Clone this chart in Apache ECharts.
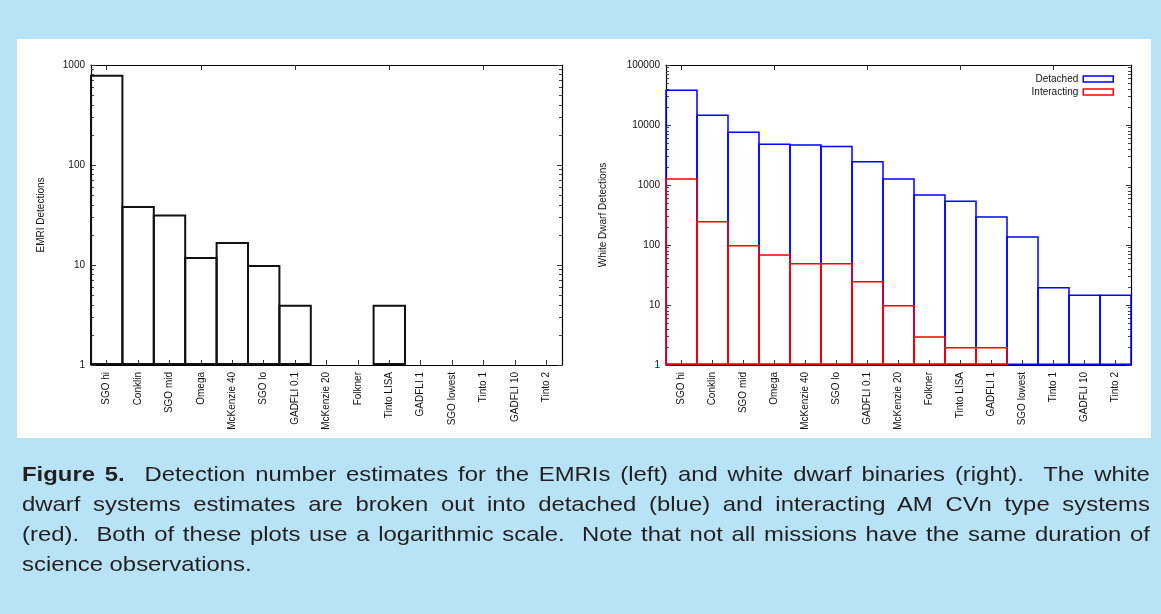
<!DOCTYPE html>
<html>
<head>
<meta charset="utf-8">
<script src="https://cdn.jsdelivr.net/npm/echarts@6/dist/echarts.min.js"></script>
<style>
  html, body { margin: 0; padding: 0; }
  body { width: 1161px; height: 614px; background: #b8e3f7; position: relative; overflow: hidden;
         font-family: "Liberation Sans", Arial, sans-serif; }
  #panel { position: absolute; left: 17px; top: 39px; width: 1134px; height: 399px; background: #ffffff; }
  #chart { position: absolute; left: 0; top: 0; width: 1161px; height: 614px; }
  /* caption set in a slightly widened face, justified over 1128px */
  #caption { position: absolute; left: 22px; top: 459px; width: 992px; color: #231f20;
             font-size: 21px; line-height: 30px; transform: scaleX(1.137); transform-origin: 0 0; }
  #caption div { text-align: justify; text-align-last: justify; white-space: nowrap; }
  #caption div.last { text-align-last: left; }
</style>
</head>
<body>
<div id="panel"></div>
<div id="chart"></div>
<div id="caption">
  <div><b>Figure 5.</b>&nbsp; Detection number estimates for the EMRIs (left) and white dwarf binaries (right).&nbsp; The white</div>
  <div>dwarf systems estimates are broken out into detached (blue) and interacting AM CVn type systems</div>
  <div>(red).&nbsp; Both of these plots use a logarithmic scale.&nbsp; Note that not all missions have the same duration of</div>
  <div class="last">science observations.</div>
</div>
<script>
// Mission concepts, in the order they are plotted
const categories = ['SGO hi', 'Conklin', 'SGO mid', 'Omega', 'McKenzie 40', 'SGO lo', 'GADFLI 0.1',
  'McKenzie 20', 'Folkner', 'Tinto LISA', 'GADFLI 1', 'SGO lowest', 'Tinto 1', 'GADFLI 10', 'Tinto 2'];

// EMRI detections per mission (null = none)
const emriDetections = [800, 39, 32, 12, 17, 10, 4, null, null, 4, null, null, null, null, null];

// White dwarf binary detections per mission
const wdDetached = [39000, 15000, 7800, 4900, 4800, 4500, 2500, 1300, 700, 550, 300, 140, 20, 15, 15];
const wdInteracting = [1300, 250, 100, 70, 50, 50, 25, 10, 3, 2, 2, null, null, null, null];

// Decade tick labels for the two log axes
const emriTicks = [1, 10, 100, 1000];
const wdTicks = [1, 10, 100, 1000, 10000, 100000];

// Minor ticks at 2..9 within each decade
function minorTicks(decades) {
  const out = [];
  for (let d = 0; d < decades; d++) {
    for (let m = 2; m <= 9; m++) out.push(m * Math.pow(10, d));
  }
  return out;
}

const FONT = '"Liberation Sans", Arial, sans-serif';
const AXIS_COLOR = '#000';
const W = 1161;

// Plot frames (pixels)
const gridL = { left: 91, right: 599, top: 65, bottom: 249 };
const gridR = { left: 666, right: 30, top: 65, bottom: 249 };

// Steps touch each other: bar width = full band plus the outline width
// (ECharts pulls the outline inside the bar rectangle).
function stepWidth(grid, lineWidth) {
  return (W - grid.left - grid.right) / categories.length + lineWidth;
}

function xAxes(gridIndex) {
  const base = {
    type: 'category', gridIndex: gridIndex, data: categories, boundaryGap: true,
    axisLine: { show: true, lineStyle: { color: AXIS_COLOR, width: 1.2 } },
    axisTick: { show: true, inside: true, alignWithLabel: true, length: 5, lineStyle: { color: '#333', width: 1 } },
    splitLine: { show: false }
  };
  return [
    Object.assign({}, base, {
      position: 'bottom',
      axisLabel: { show: true, rotate: 90, interval: 0, margin: 7, fontSize: 10, color: '#111', fontFamily: FONT }
    }),
    Object.assign({}, base, { position: 'top', axisLabel: { show: false } })
  ];
}

function yAxes(gridIndex, max, ticks, decades, name, nameGap) {
  const base = { type: 'log', logBase: 10, gridIndex: gridIndex, min: 1, max: max, splitLine: { show: false } };
  const minors = minorTicks(decades);
  return [
    Object.assign({}, base, {
      position: 'left', name: name, nameLocation: 'middle', nameGap: nameGap, nameRotate: 90,
      nameTextStyle: { fontSize: 10, color: '#111', fontFamily: FONT },
      axisLine: { show: true, lineStyle: { color: AXIS_COLOR, width: 1.2 } },
      axisTick: { show: true, inside: true, length: 5, customValues: ticks, lineStyle: { color: '#333' } },
      axisLabel: { show: true, customValues: ticks, margin: 6, fontSize: 10, color: '#111', fontFamily: FONT,
                   formatter: v => String(Math.round(v)) }
    }),
    Object.assign({}, base, {
      position: 'right',
      axisLine: { show: true, lineStyle: { color: AXIS_COLOR, width: 1.2 } },
      axisTick: { show: true, inside: true, length: 5, customValues: ticks, lineStyle: { color: '#333' } },
      axisLabel: { show: false }
    }),
    Object.assign({}, base, {
      position: 'left', axisLine: { show: false },
      axisTick: { show: true, inside: true, length: 3, customValues: minors, lineStyle: { color: '#444' } },
      axisLabel: { show: false }
    }),
    Object.assign({}, base, {
      position: 'right', axisLine: { show: false },
      axisTick: { show: true, inside: true, length: 3, customValues: minors, lineStyle: { color: '#444' } },
      axisLabel: { show: false }
    })
  ];
}

const chart = echarts.init(document.getElementById('chart'), null, { renderer: 'canvas' });

chart.setOption({
  backgroundColor: 'transparent',
  animation: false,
  textStyle: { fontFamily: FONT },
  grid: [gridL, gridR],
  legend: {
    orient: 'vertical', right: 42, top: 69, align: 'right', itemGap: 3,
    itemWidth: 30, itemHeight: 6, icon: 'rect',
    textStyle: { fontSize: 10, color: '#111', fontFamily: FONT },
    data: [
      { name: 'Detached', itemStyle: { color: '#fff', borderColor: '#0000ff', borderWidth: 1.5 } },
      { name: 'Interacting', itemStyle: { color: '#fff', borderColor: '#ff0000', borderWidth: 1.5 } }
    ]
  },
  xAxis: [].concat(xAxes(0), xAxes(1)),
  yAxis: [].concat(
    yAxes(0, 1000, emriTicks, 3, 'EMRI Detections', 45),
    yAxes(1, 100000, wdTicks, 5, 'White Dwarf Detections', 58)
  ),
  series: [
    {
      type: 'bar', name: 'EMRI', xAxisIndex: 0, yAxisIndex: 0, data: emriDetections,
      barWidth: stepWidth(gridL, 2), silent: true,
      itemStyle: { color: 'rgba(255,255,255,0)', borderColor: '#111', borderWidth: 2 }
    },
    {
      type: 'bar', name: 'Detached', xAxisIndex: 2, yAxisIndex: 4, data: wdDetached,
      barWidth: stepWidth(gridR, 1.5), barGap: '-100%', silent: true,
      itemStyle: { color: 'rgba(255,255,255,0)', borderColor: '#0000ff', borderWidth: 1.5 }
    },
    {
      type: 'bar', name: 'Interacting', xAxisIndex: 2, yAxisIndex: 4, data: wdInteracting,
      barWidth: stepWidth(gridR, 1.5), barGap: '-100%', silent: true,
      itemStyle: { color: 'rgba(255,255,255,0)', borderColor: '#ff0000', borderWidth: 1.5 }
    }
  ]
});
</script>
</body>
</html>
